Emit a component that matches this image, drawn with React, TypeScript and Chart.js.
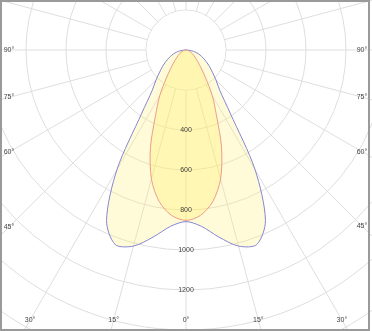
import React, { useEffect, useRef } from 'react';
import { Chart, registerables } from 'chart.js';

Chart.register(...registerables);

// Luminous intensity (cd) per gamma angle, 0°..180° in 5° steps (symmetric planes)
const GAMMA_DEG = [
  0, 5, 10, 15, 20, 25, 30, 35, 40, 45, 50, 55, 60, 65, 70, 75, 80, 85, 90,
  95, 100, 105, 110, 115, 120, 125, 130, 135, 140, 145, 150, 155, 160, 165, 170, 175, 180,
];
const PLANE_C0_C180 = [
  858, 885, 950, 1015, 1035, 940, 690, 385, 262, 212, 172, 143, 117, 95, 75, 57, 38, 19, 0,
  0, 0, 0, 0, 0, 0, 0, 0, 0, 0, 0, 0, 0, 0, 0, 0, 0, 0,
];
const PLANE_C90_C270 = [
  852, 830, 770, 668, 520, 360, 262, 172, 117, 84, 62, 48, 37, 28, 20, 13, 8, 4, 0,
  0, 0, 0, 0, 0, 0, 0, 0, 0, 0, 0, 0, 0, 0, 0, 0, 0, 0,
];
const RADIAL_TICK_LABELS = [400, 600, 800, 1000, 1200];
const ANGLE_TICK_LABELS = [0, 15, 30, 45, 60, 75, 90];
const R_MAX = 1800;
const R_STEP = 200;
const INNER_BLANK_VALUE = 200;

// layout / style
const W = 372;
const H = 331;
const CENTER_X = 186;
const CENTER_Y = 50;
const RADIUS_PX = 360;
const GRID = '#dedede';
const TEXT = '#444';
const FONT = '7px "Liberation Sans", Arial, sans-serif';
const LABEL_BOX = { left: 9, right: 362, bottom: 320 };

const STEP = GAMMA_DEG[1] - GAMMA_DEG[0];
const FULL_COUNT = Math.round(360 / STEP);
const radarLabels: string[] = [];
for (let i = 0; i < FULL_COUNT; i++) radarLabels.push(String(i * STEP));

function mirror(half: number[]): number[] {
  const out: number[] = [];
  for (let i = 0; i < FULL_COUNT; i++) {
    const g = i * STEP <= 180 ? i * STEP : 360 - i * STEP;
    out.push(half[GAMMA_DEG.indexOf(g)]);
  }
  return out;
}

const polarDecor = {
  id: 'polarDecor',
  beforeDatasetsDraw(chart: any) {
    const s = chart.scales.r;
    const ctx = chart.ctx;
    const rr = s.getDistanceFromCenterForValue(INNER_BLANK_VALUE) - 0.6;
    ctx.save();
    ctx.fillStyle = '#ffffff';
    ctx.beginPath();
    ctx.arc(s.xCenter, s.yCenter, rr, 0, Math.PI * 2);
    ctx.fill();
    ctx.restore();
  },
  afterDatasetsDraw(chart: any) {
    const s = chart.scales.r;
    const ctx = chart.ctx;
    ctx.save();
    ctx.font = FONT;
    ctx.fillStyle = TEXT;
    ctx.textAlign = 'center';
    ctx.textBaseline = 'middle';
    RADIAL_TICK_LABELS.forEach((v) => {
      const p = s.getPointPositionForValue(0, v);
      ctx.fillText(String(v), p.x, p.y);
    });
    const cx = s.xCenter;
    const cy = s.yCenter;
    ANGLE_TICK_LABELS.forEach((g) => {
      const sides = g === 0 ? [1] : [-1, 1];
      sides.forEach((side) => {
        const a = (g * Math.PI) / 180;
        const dx = side * Math.sin(a);
        const dy = Math.cos(a);
        const ts: number[] = [];
        if (dx < -1e-9) ts.push((LABEL_BOX.left - cx) / dx);
        if (dx > 1e-9) ts.push((LABEL_BOX.right - cx) / dx);
        if (dy > 1e-9) ts.push((LABEL_BOX.bottom - cy) / dy);
        const t = Math.min(...ts);
        ctx.fillText(g + '°', cx + dx * t, cy + dy * t);
      });
    });
    ctx.restore();
  },
  afterDraw(chart: any) {
    const ctx = chart.ctx;
    ctx.save();
    ctx.strokeStyle = '#9a9a9a';
    ctx.lineWidth = 2;
    ctx.strokeRect(1, 1, 368, 329);
    ctx.restore();
  },
};

export default function App() {
  const ref = useRef<HTMLCanvasElement | null>(null);
  useEffect(() => {
    if (!ref.current) return;
    const chart = new Chart(ref.current, {
      type: 'radar',
      data: {
        labels: radarLabels,
        datasets: [
          {
            label: 'C90-C270',
            data: mirror(PLANE_C90_C270),
            borderColor: '#eb9c8a',
            backgroundColor: 'rgba(255, 238, 100, 0.33)',
            borderWidth: 1,
            fill: true,
            pointRadius: 0,
            tension: 0.3,
          },
          {
            label: 'C0-C180',
            data: mirror(PLANE_C0_C180),
            borderColor: '#8585d0',
            backgroundColor: 'rgba(255, 240, 120, 0.28)',
            borderWidth: 1,
            fill: true,
            pointRadius: 0,
            tension: 0.3,
          },
        ],
      },
      options: {
        animation: false,
        responsive: false,
        maintainAspectRatio: false,
        events: [],
        layout: { padding: 0 },
        plugins: { legend: { display: false }, tooltip: { enabled: false } },
        scales: {
          r: {
            min: 0,
            max: R_MAX,
            startAngle: 180,
            ticks: { display: false, stepSize: R_STEP },
            pointLabels: { display: false },
            grid: { circular: true, color: GRID, lineWidth: 1 },
            angleLines: {
              color: GRID,
              lineWidth: (c: any) => (c.index % 3 === 0 ? 1 : 0),
            },
            afterFit: (scale: any) => {
              scale.xCenter = CENTER_X;
              scale.yCenter = CENTER_Y;
              scale.drawingArea = RADIUS_PX;
            },
          } as any,
        },
      },
      plugins: [polarDecor],
    });
    return () => chart.destroy();
  }, []);
  return (
    <div style={{ position: 'fixed', left: 0, top: 0, width: W, height: H, background: '#fff' }}>
      <canvas ref={ref} width={W} height={H} style={{ display: 'block' }} />
    </div>
  );
}
